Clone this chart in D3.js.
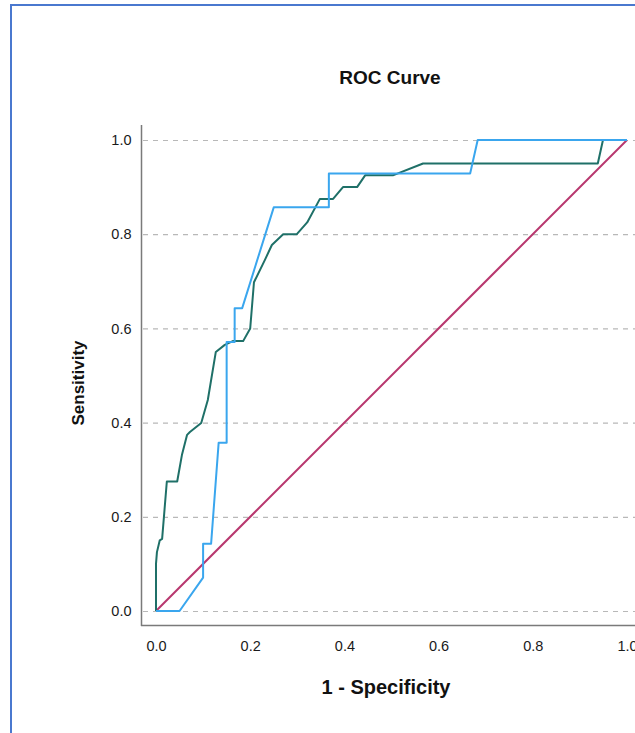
<!DOCTYPE html>
<html><head><meta charset="utf-8">
<script src="https://cdn.jsdelivr.net/npm/d3@7"></script>
<style>html,body{margin:0;padding:0;background:#fff;overflow:hidden}</style>
</head><body>
<svg id="c" width="635" height="733"></svg>
<script>
// Data
const tickValues = [0.0, 0.2, 0.4, 0.6, 0.8, 1.0];
const blueFPR = [0, 0.05, 0.1, 0.1, 0.117, 0.133, 0.15, 0.15, 0.167, 0.167, 0.183, 0.25, 0.367, 0.367, 0.667, 0.683, 1.0];
const blueTPR = [0, 0, 0.071, 0.143, 0.143, 0.357, 0.357, 0.571, 0.571, 0.643, 0.643, 0.857, 0.857, 0.929, 0.929, 1.0, 1.0];
const greenFPR = [0, 0, 0.002, 0.008, 0.013, 0.023, 0.045, 0.055, 0.066, 0.072, 0.096, 0.11, 0.127, 0.146, 0.163, 0.185, 0.2, 0.208, 0.231, 0.246, 0.27, 0.299, 0.321, 0.348, 0.376, 0.397, 0.427, 0.444, 0.503, 0.567, 0.938, 0.949, 1.0];
const greenTPR = [0, 0.1, 0.125, 0.15, 0.153, 0.275, 0.275, 0.331, 0.374, 0.38, 0.399, 0.448, 0.55, 0.565, 0.573, 0.573, 0.6, 0.698, 0.745, 0.777, 0.8, 0.8, 0.825, 0.875, 0.875, 0.9, 0.9, 0.925, 0.925, 0.95, 0.95, 1.0, 1.0];
const refLine = [0, 1];

const svg = d3.select("#c");
const x = d3.scaleLinear().domain([0, 1]).range([156, 627]);
const y = d3.scaleLinear().domain([0, 1]).range([611, 140]);
const FONT = "Arial, 'Liberation Sans', sans-serif";

// outer blue frame
svg.append("line").attr("x1", 10).attr("x2", 635).attr("y1", 5).attr("y2", 5)
  .attr("stroke", "#4a78cf").attr("stroke-width", 2);
svg.append("line").attr("x1", 11).attr("x2", 11).attr("y1", 4).attr("y2", 733)
  .attr("stroke", "#4a78cf").attr("stroke-width", 2);

// title
svg.append("text").attr("x", 390).attr("y", 84).attr("text-anchor", "middle")
  .attr("font-family", FONT).attr("font-weight", "bold")
  .attr("font-size", 19).attr("fill", "#111").text("ROC Curve");

// gridlines
svg.append("g").selectAll("line").data(tickValues).join("line")
  .attr("x1", 143).attr("x2", 635).attr("y1", d => y(d) + 0.5).attr("y2", d => y(d) + 0.5)
  .attr("stroke", "#b8b8b8").attr("stroke-width", 1.2).attr("stroke-dasharray", "5,5");

// axes via d3
const yAxis = d3.axisLeft(y).tickValues(tickValues).tickFormat(d3.format(".1f")).tickSize(0).tickPadding(10);
const gy = svg.append("g").attr("transform", "translate(141.5,0)").call(yAxis);
gy.select(".domain").remove();
gy.selectAll("text").attr("font-family", FONT).attr("font-size", 14.5).attr("fill", "#1a1a1a");

const xAxis = d3.axisBottom(x).tickValues(tickValues).tickFormat(d3.format(".1f")).tickSize(0).tickPadding(15);
const gx = svg.append("g").attr("transform", "translate(0,625.5)").call(xAxis);
gx.select(".domain").remove();
gx.selectAll("text").attr("font-family", FONT).attr("font-size", 14.5).attr("fill", "#1a1a1a");

// axis frame lines
svg.append("line").attr("x1", 141.5).attr("x2", 141.5).attr("y1", 125).attr("y2", 626)
  .attr("stroke", "#7a7a7a").attr("stroke-width", 1.5);
svg.append("line").attr("x1", 141).attr("x2", 635).attr("y1", 625.5).attr("y2", 625.5)
  .attr("stroke", "#7a7a7a").attr("stroke-width", 1.5);

// axis titles
svg.append("text").attr("x", 386).attr("y", 694).attr("text-anchor", "middle")
  .attr("font-family", FONT).attr("font-weight", "bold")
  .attr("font-size", 20).attr("fill", "#111").text("1 - Specificity");
svg.append("text").attr("transform", "translate(84,383) rotate(-90)").attr("text-anchor", "middle")
  .attr("font-family", FONT).attr("font-weight", "bold")
  .attr("font-size", 17).attr("fill", "#111").text("Sensitivity");

const line = d3.line().x(d => x(d[0])).y(d => y(d[1]));

// reference diagonal
svg.append("path").datum(refLine.map(v => [v, v])).attr("d", line)
  .attr("fill", "none").attr("stroke", "#b8376e").attr("stroke-width", 2);

// green curve
svg.append("path").datum(greenFPR.map((v, i) => [v, greenTPR[i]])).attr("d", line)
  .attr("fill", "none").attr("stroke", "#1f7068").attr("stroke-width", 2).attr("stroke-linejoin", "round");

// blue curve
svg.append("path").datum(blueFPR.map((v, i) => [v, blueTPR[i]])).attr("d", line)
  .attr("fill", "none").attr("stroke", "#3aa6ee").attr("stroke-width", 2).attr("stroke-linejoin", "round");
</script>
</body></html>
